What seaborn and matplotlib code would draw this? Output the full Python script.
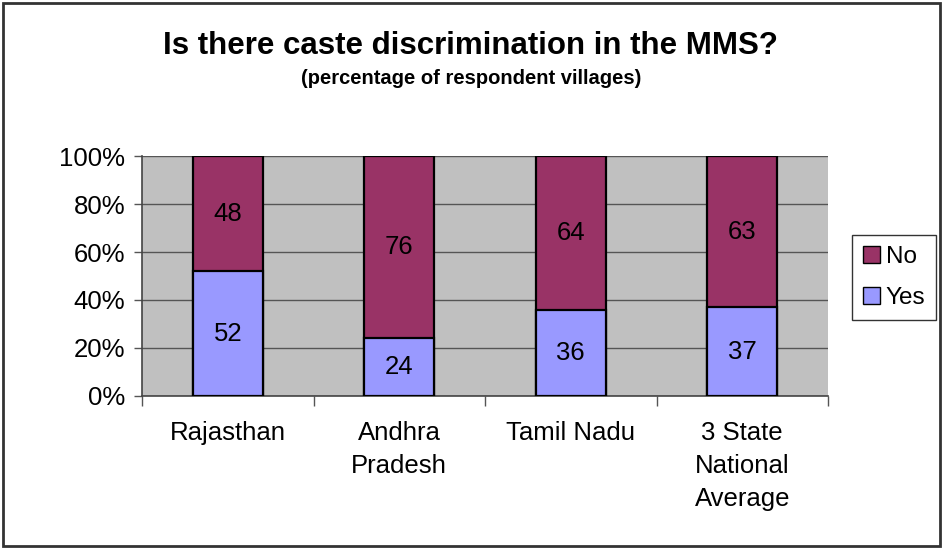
import pandas as pd
import numpy as np
import matplotlib.pyplot as plt
import seaborn as sns
from matplotlib.patches import Rectangle, Patch
from matplotlib.ticker import FixedLocator, PercentFormatter

# Chart data
states = ['Rajasthan', 'Andhra\nPradesh', 'Tamil Nadu', '3 State\nNational\nAverage']
yes_pct = [52, 24, 36, 37]
no_pct = [48, 76, 64, 63]

df = pd.DataFrame({'state': states, 'Yes': yes_pct, 'No': no_pct})
df['total'] = df['Yes'] + df['No']

sns.set_style('white')
plt.rcParams['font.family'] = ['Liberation Sans', 'DejaVu Sans']
plt.rcParams['text.color'] = 'black'
plt.rcParams['xtick.labelcolor'] = 'black'
plt.rcParams['ytick.labelcolor'] = 'black'

fig = plt.figure(figsize=(9.43, 5.48), dpi=100)
ax = fig.add_axes([0.1506, 0.2774, 0.7275, 0.4379])
ax.set_facecolor('#C0C0C0')

# stacked bars: full stack in "No" colour, "Yes" drawn over the bottom
sns.barplot(data=df, x='state', y='total', color='#993366', saturation=1, width=0.41,
            edgecolor='black', linewidth=1.6, ax=ax, zorder=3)
sns.barplot(data=df, x='state', y='Yes', color='#9999FF', saturation=1, width=0.41,
            edgecolor='black', linewidth=1.6, ax=ax, zorder=3)

# value labels in the middle of each segment
fs = 18.5
for i, row in df.iterrows():
    ax.text(i, row['Yes'] / 2, str(row['Yes']), ha='center', va='center', fontsize=fs, zorder=4)
    ax.text(i, row['Yes'] + row['No'] / 2, str(row['No']), ha='center', va='center', fontsize=fs, zorder=4)

ax.set_ylim(0, 100)
ax.set_xlim(-0.5, len(states) - 0.5)
ax.set_yticks(np.arange(0, 101, 20))
ax.yaxis.set_major_formatter(PercentFormatter(decimals=0))
ax.grid(axis='y', color='#555555', linewidth=1, zorder=0)
ax.set_axisbelow(True)

ax.set_xlabel('')
ax.set_ylabel('')
ax.tick_params(axis='y', left=True, length=6, width=1, color='#555555', labelsize=fs, pad=6)
ax.tick_params(axis='x', which='major', length=0, labelsize=fs, pad=18)
ax.xaxis.set_minor_locator(FixedLocator(np.arange(-0.5, len(states), 1)))
ax.tick_params(axis='x', which='minor', bottom=True, length=7, width=1, color='#555555')
for lbl in ax.get_xticklabels():
    lbl.set_linespacing(1.48)
    lbl.set_va('top')

for side in ['top', 'right']:
    ax.spines[side].set_visible(False)
for side in ['left', 'bottom']:
    ax.spines[side].set_color('#444444')
    ax.spines[side].set_linewidth(1.2)

# title and subtitle
fig.text(0.499, 0.916, 'Is there caste discrimination in the MMS?', ha='center', va='center',
         fontsize=22.5, fontweight='bold')
fig.text(0.5, 0.856, '(percentage of respondent villages)', ha='center', va='center',
         fontsize=14.5, fontweight='bold')

# legend
handles = [Patch(facecolor='#993366', edgecolor='black', label='No'),
           Patch(facecolor='#9999FF', edgecolor='black', label='Yes')]
leg = fig.legend(handles=handles, loc='center', bbox_to_anchor=(0.948, 0.494), fontsize=17.5,
                 frameon=True, fancybox=False, edgecolor='black', handlelength=0.7,
                 handleheight=0.7, handletextpad=0.25, labelspacing=0.8, borderpad=0.45,
                 borderaxespad=0)
leg.get_frame().set_linewidth(1)

# outer chart border
fig.patches.append(Rectangle((0.003, 0.004), 0.994, 0.991, transform=fig.transFigure,
                             fill=False, edgecolor='#333333', linewidth=2))

fig.savefig('out.png', dpi=100)
